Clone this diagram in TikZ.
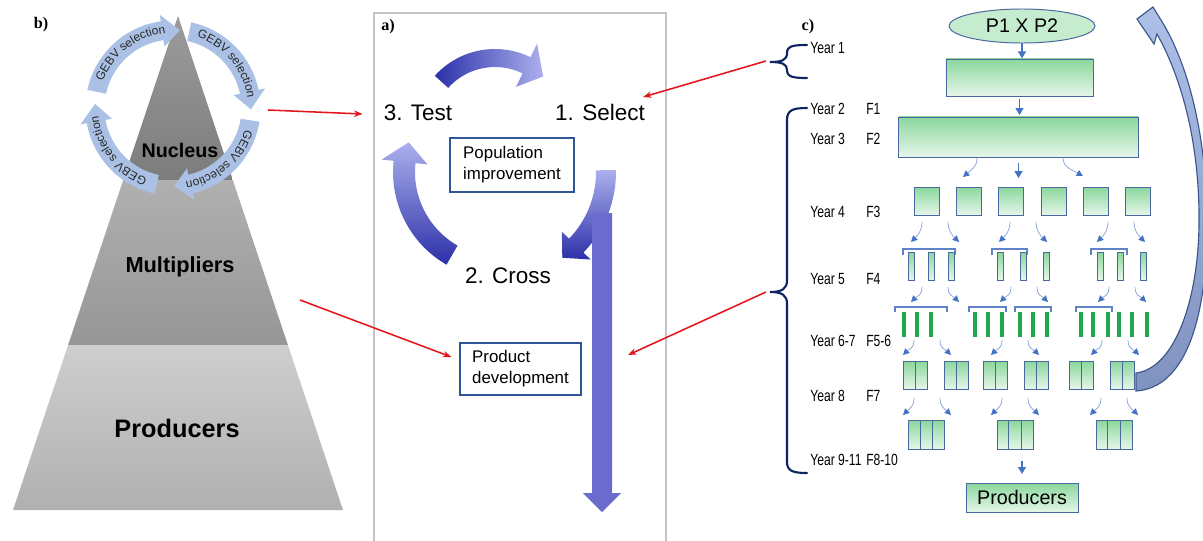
\documentclass[tikz,border=0pt]{standalone}
\usepackage{fontspec}
\setmainfont{Liberation Sans}
\newfontfamily\serifbf{Liberation Serif}
\newfontfamily\narrowsf{Liberation Sans}[FakeStretch=0.75]
\usetikzlibrary{calc,positioning,arrows.meta,shapes.geometric,decorations.text}

\definecolor{nuctop}{RGB}{156,156,156}
\definecolor{nucbot}{RGB}{124,124,124}
\definecolor{multtop}{RGB}{176,176,176}
\definecolor{multbot}{RGB}{150,150,150}
\definecolor{prodtop}{RGB}{206,206,206}
\definecolor{prodbot}{RGB}{176,176,176}
\definecolor{gebv}{RGB}{170,193,229}
\definecolor{gebvtext}{RGB}{40,40,40}
\definecolor{redarr}{RGB}{228,22,28}
\definecolor{cyclight}{RGB}{172,176,238}
\definecolor{cycdark}{RGB}{44,48,168}
\definecolor{devarrow}{RGB}{107,107,205}
\definecolor{boxline}{RGB}{47,85,151}
\definecolor{framegray}{RGB}{196,196,196}
\definecolor{navy}{RGB}{12,36,97}
\definecolor{greentop}{RGB}{138,215,156}
\definecolor{greenbot}{RGB}{230,246,234}
\definecolor{greenlight}{RGB}{198,236,208}
\definecolor{greenedge}{RGB}{74,104,158}
\definecolor{arrblue}{RGB}{68,114,196}
\definecolor{arrthin}{RGB}{130,160,218}
\definecolor{barline}{RGB}{96,130,200}
\definecolor{barg}{RGB}{30,168,75}
\definecolor{looptop}{RGB}{172,192,232}
\definecolor{loopbot}{RGB}{128,146,190}
\definecolor{loopline}{RGB}{60,86,140}

\newcommand{\cyclearrow}[7]{($(#1)+(#4:{#2+#3})$) arc[start angle=#4, end angle=#5, radius={#2+#3}] -- ($(#1)+(#5:{#2+#7})$) -- ($(#1)+(#6:{#2})$) -- ($(#1)+(#5:{#2-#7})$) -- ($(#1)+(#5:{#2-#3})$) arc[start angle=#5, end angle=#4, radius={#2-#3}] -- cycle}
\newcommand{\gebvfont}{\fontsize{8.5}{10}\selectfont}

\begin{document}
\begin{tikzpicture}[
x=0.025cm, y=-0.025cm,
panellab/.style={font=\serifbf\bfseries\fontsize{11.5}{13}\selectfont, inner sep=0},
pyrtxt/.style={font=\bfseries, inner sep=0, anchor=base},
cyctxt/.style={font=\fontsize{16}{19}\selectfont, inner sep=0, anchor=base},
pbox/.style={draw=boxline, line width=0.8pt, fill=white, align=left, inner sep=0, font=\fontsize{12}{15}\selectfont},
redline/.style={draw=redarr, line width=1.1pt, -{Stealth[length=6pt,width=4.5pt]}},
gebvtxt/.style={decorate, decoration={text along path, text={|\gebvfont|GEBV selection}, text align=center, text color=gebvtext}},
yr/.style={font=\narrowsf\fontsize{11.5}{13}\selectfont, inner sep=0, anchor=base west},
brace/.style={draw=navy, line width=1.5pt, line cap=round},
gbox/.style={draw=greenedge, line width=0.7pt, top color=greentop, bottom color=greenbot, inner sep=0},
barr/.style={draw=arrblue, line width=1.4pt, -{Triangle[length=5pt,width=5.5pt]}},
sarr/.style={draw=arrthin, line width=0.5pt, -{Triangle[length=4.5pt,width=4.5pt,color=arrblue]}},
bracket/.style={draw=barline, line width=1.1pt},
gbar/.style={draw=barg, line width=2.2pt}
]
\useasboundingbox (0,0) rectangle (1203,540);
\clip (0,0) rectangle (1203,540);
\fill[white] (0,0) rectangle (1203,540);

\coordinate (apex) at (178,16);
\coordinate (bl) at (13,510);
\coordinate (br) at (343,510);
\coordinate (n1) at ($(apex)!0.332!(bl)$);
\coordinate (n2) at ($(apex)!0.332!(br)$);
\coordinate (m1) at ($(apex)!0.666!(bl)$);
\coordinate (m2) at ($(apex)!0.666!(br)$);
\shade[top color=nuctop, bottom color=nucbot] (apex) -- (n2) -- (n1) -- cycle;
\shade[top color=multtop, bottom color=multbot] (n1) -- (n2) -- (m2) -- (m1) -- cycle;
\shade[top color=prodtop, bottom color=prodbot] (m1) -- (m2) -- (br) -- (bl) -- cycle;
\node[pyrtxt, font=\bfseries\fontsize{14}{16}\selectfont] (nucleus) at (180,157) {Nucleus};
\node[pyrtxt, font=\bfseries\fontsize{15.5}{18}\selectfont] (mult) at (180,272) {Multipliers};
\node[pyrtxt, font=\bfseries\fontsize{18}{21}\selectfont] (pyprod) at (177,437) {Producers};

\coordinate (gc) at (173,108);
\fill[gebv] \cyclearrow{gc}{78}{9.5}{192}{262}{275}{16};
\fill[gebv] \cyclearrow{gc}{78}{9.5}{282}{348}{361}{16};
\fill[gebv] \cyclearrow{gc}{78}{9.5}{9}{77}{89}{16};
\fill[gebv] \cyclearrow{gc}{78}{9.5}{102}{170}{183}{16};
\path[gebvtxt] ($(gc)+(193:75)$) arc[start angle=193, end angle=272, radius=75];
\path[gebvtxt] ($(gc)+(283:75)$) arc[start angle=283, end angle=358, radius=75];
\path[gebvtxt] ($(gc)+(10:75)$) arc[start angle=10, end angle=87, radius=75];
\path[gebvtxt] ($(gc)+(103:75)$) arc[start angle=103, end angle=181, radius=75];
\node[panellab] (lb) at (41,25) {b)};

\draw[framegray, line width=0.8pt] (374,13) rectangle (666,560);
\node[panellab] (la) at (388,27) {a)};
\coordinate (ctop) at (495,130);
\coordinate (cyc) at (500,172);
\shade[left color=cycdark, right color=cyclight] \cyclearrow{ctop}{72}{9}{222}{296}{312}{24};
\shade[top color=cyclight, bottom color=cycdark] \cyclearrow{cyc}{96}{11}{120}{186}{198}{23};
\shade[top color=cyclight, bottom color=cycdark] \cyclearrow{cyc}{106}{10}{-1}{44}{54}{20};
\fill[devarrow] (592,213) -- (612,213) -- (612,493) -- (621,493) -- (602,512) -- (583,493) -- (592,493) -- cycle;
\node[cyctxt] (test) at (418,120) {3. Test};
\node[cyctxt] (sel) at (600,120) {1. Select};
\node[cyctxt] (cross) at (508,283) {2. Cross};
\node[pbox, minimum width=3.1cm, minimum height=1.35cm] (popimp) at (512,165) {Population\\improvement};
\node[pbox, minimum width=3.025cm, minimum height=1.3cm] (proddev) at (520.5,369) {Product\\development};

\node[panellab] (lc) at (808,27) {c)};
\node[ellipse, draw=greenedge, line width=0.7pt, fill=greenlight, minimum width=3.65cm, minimum height=0.85cm, inner sep=0, font=\fontsize{14}{16}\selectfont] (p12) at (1022,26) {P1 X P2};
\node[gbox, minimum width=3.675cm, minimum height=0.925cm] (box1) at (1019.5,77.5) {};
\node[gbox, minimum width=5.975cm, minimum height=1cm] (box2) at (1018.5,137) {};
\draw[barr] (p12.south) -- (p12.south |- box1.north);
\draw[barr, shorten <=2pt, shorten >=1pt] (box1.south) -- (box1.south |- box2.north);
\draw[barr] ([yshift=-4pt]box2.south) -- ++(0,15);
\draw[sarr] (977,158) .. controls (977,167) and (971,170) .. (963,177);
\draw[sarr] (1063,158) .. controls (1063,167) and (1072,170) .. (1083,176);

\foreach \i/\x in {1/927,2/969,3/1011,4/1054,5/1096,6/1138}
  \node[gbox, minimum width=0.625cm, minimum height=0.7cm] (sq\i) at (\x,201) {};
\foreach \a/\b in {903/955,992/1027,1091/1127}
  \draw[bracket] (\a,255) -- (\a,249) -- (\b,249) -- (\b,255);
\foreach \i/\x in {1/911,2/931,3/951,4/1000,5/1023,6/1046,7/1100,8/1120,9/1143}
  \node[gbox, minimum width=0.15cm, minimum height=0.7cm] (bar\i) at (\x,266) {};
\foreach \a/\b in {895/947,969/1006,1015/1051,1076/1112}
  \draw[bracket] (\a,312) -- (\a,307) -- (\b,307) -- (\b,312);
\foreach \x in {904,917,931,975,988,1002,1020,1033,1047,1081,1093,1108,1119,1132,1147}
  \draw[gbar] (\x,312) -- (\x,337);
\foreach \i/\x in {1/915,2/956,3/995,4/1036,5/1081,6/1122} {
  \node[gbox, minimum width=0.6cm, minimum height=0.7cm] (fs\i) at (\x,375) {};
  \draw[greenedge, line width=0.7pt] (fs\i.north) -- (fs\i.south);
}
\foreach \i/\x in {1/926.5,2/1015,3/1114} {
  \node[gbox, minimum width=0.9cm, minimum height=0.725cm] (fe\i) at (\x,434.5) {};
  \draw[greenedge, line width=0.7pt] ($(fe\i.north west)!1/3!(fe\i.north east)$) -- ($(fe\i.south west)!1/3!(fe\i.south east)$);
  \draw[greenedge, line width=0.7pt] ($(fe\i.north west)!2/3!(fe\i.north east)$) -- ($(fe\i.south west)!2/3!(fe\i.south east)$);
}
\foreach \x/\y/\l in {935/222/20,1023/222/20,1121/222/20,935/287/15,1024/287/15,1122/287/15,927/340/15,1015/340/15,1115/340/15,927/398/17,1015/398/17,1114/398/17} {
  \draw[sarr] (\x-13,\y) .. controls +(0,9) and +(6,-6) .. (\x-24,\y+\l);
  \draw[sarr] (\x+13,\y) .. controls +(0,9) and +(-6,-6) .. (\x+24,\y+\l);
}
\node[gbox, minimum width=2.8cm, minimum height=0.725cm, font=\fontsize{14}{16}\selectfont] (prodc) at (1022,497.5) {Producers};
\draw[barr] ([yshift=-8pt]prodc.north |- fe2.south) -- ([yshift=6pt]prodc.north);

\path[draw=loopline, line width=0.8pt, top color=looptop, bottom color=loopbot] (1136,373) .. controls (1175,368) and (1198,300) .. (1199,225) .. controls (1200,140) and (1180,75) .. (1157,34) -- (1154,44) -- (1137,19) -- (1153,7) -- (1164,25) .. controls (1190,70) and (1207,140) .. (1207,225) .. controls (1207,320) and (1185,388) .. (1136,391) -- cycle;

\draw[brace] (807,45) .. controls (793,45) and (787,46) .. (787,53) .. controls (787,60) and (782,62) .. (770,62) .. controls (782,62) and (787,64) .. (787,70) .. controls (787,77) and (793,78) .. (807,78);
\draw[brace] (807,108) .. controls (793,108) and (787,110) .. (787,120) -- (787,280) .. controls (787,289) and (782,292) .. (770,292) .. controls (782,292) and (787,295) .. (787,304) -- (787,462) .. controls (787,471) and (793,473) .. (807,473);
\node[yr] (yr1) at (810,53) {Year 1};
\foreach \n/\ytext/\ftext/\yb in {2/Year 2/F1/114,3/Year 3/F2/144,4/Year 4/F3/217,5/Year 5/F4/284,6/Year 6-7/F5-6/346,8/Year 8/F7/401,9/Year 9-11/F8-10/465} {
  \node[yr] (yr\n) at (810,\yb) {\ytext};
  \node[yr] (gen\n) at (866,\yb) {\ftext};
}

\coordinate (gebvout) at (268,110);
\coordinate (multout) at (300,300);
\coordinate (yr1tip) at (766,61);
\coordinate (bracetip) at (766,292);
\coordinate (devarr) at (628,355);
\draw[redline] (gebvout) -- ($(test.base west)+(-21,-6)$);
\draw[redline] (multout) -- ($(proddev.west)+(-8,-12)$);
\draw[redline] (yr1tip) -- ($(sel.base east)+(-2,-23)$);
\draw[redline] (bracetip) -- (devarr);
\end{tikzpicture}
\end{document}
